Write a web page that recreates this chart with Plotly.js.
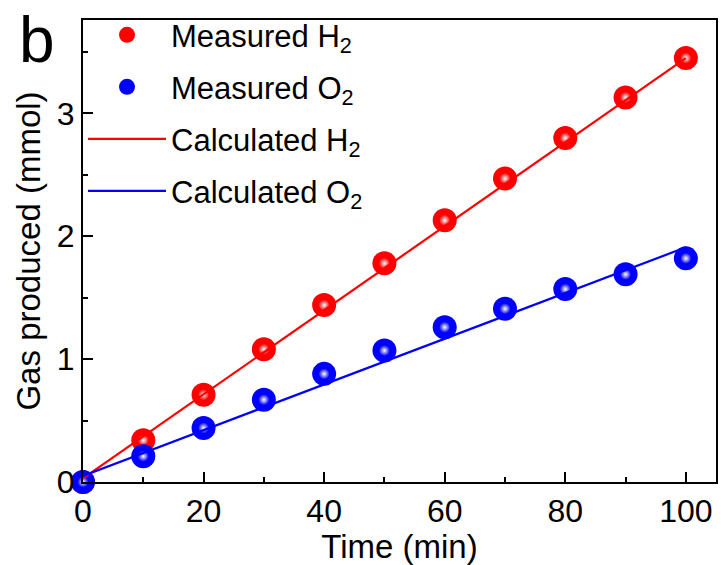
<!DOCTYPE html>
<html><head><meta charset="utf-8">
<script src="https://cdn.plot.ly/plotly-3.0.1.min.js"></script>
<style>html,body{margin:0;padding:0;background:#fff;}</style>
</head><body><div id="chart" style="width:721px;height:565px;"></div>
<script>
const time = [0,10,20,30,40,50,60,70,80,90,100];
const measuredH2 = [0,0.34,0.71,1.08,1.44,1.78,2.13,2.47,2.80,3.13,3.45];
const measuredO2 = [0,0.21,0.44,0.67,0.88,1.07,1.26,1.41,1.57,1.69,1.82];
const calcTime = [0,100];
const calculatedH2 = [0.03,3.45];
const calculatedO2 = [0.05,1.91];
const names = ['Measured H<sub>2</sub>','Measured O<sub>2</sub>','Calculated H<sub>2</sub>','Calculated O<sub>2</sub>'];

const FONT = "Arial, 'Liberation Sans', sans-serif";
const RED = '#ff0000', BLUE = '#0000ff';

function sphere(y, color, name, grp){
  return [{
    x: time, y: y, type:'scatter', mode:'markers', name: name, legendgroup: grp,
    marker:{size:24, color: color, symbol:'circle', line:{width:0}},
    cliponaxis:false, hoverinfo:'x+y'
  },{
    x: time, y: y, type:'scatter', mode:'markers', showlegend:false, legendgroup: grp,
    marker:{size:11, color: color, line:{width:0}, gradient:{type:'radial', color:'#ffffff'}},
    cliponaxis:false, hoverinfo:'skip'
  }];
}
const traces = [
  ...sphere(measuredH2, RED, names[0], 'g1'),
  ...sphere(measuredO2, BLUE, names[1], 'g2'),
  {x: calcTime, y: calculatedH2, type:'scatter', mode:'lines', name:names[2], legendgroup:'g3',
   line:{color:RED, width:2.2}, cliponaxis:false},
  {x: calcTime, y: calculatedO2, type:'scatter', mode:'lines', name:names[3], legendgroup:'g4',
   line:{color:BLUE, width:2.2}, cliponaxis:false}
];

const layout = {
  width:721, height:565,
  margin:{l:83, r:5, t:20, b:83},
  paper_bgcolor:'#fff', plot_bgcolor:'#fff',
  font:{family:FONT, size:32, color:'#000'},
  showlegend:true,
  legend:{x:0.0, y:1.0255, xanchor:'left', yanchor:'top', bgcolor:'rgba(0,0,0,0)',
    font:{family:FONT, size:31, color:'#000'}, traceorder:'grouped', tracegroupgap:8.7,
    itemwidth:78, itemsizing:'trace'},
  xaxis:{range:[0,105], showgrid:false, zeroline:false, showline:true, linecolor:'#000', linewidth:2,
    mirror:true, ticks:'inside', ticklen:10, tickwidth:2, tickcolor:'#000', dtick:20, tick0:0,
    minor:{ticks:'inside', ticklen:5, tickwidth:2, tickcolor:'#000', dtick:10},
    tickfont:{family:FONT, size:32},
    title:{text:'Time (min)', font:{family:FONT, size:33}, standoff:2}},
  yaxis:{range:[0,3.76], showgrid:false, zeroline:false, showline:true, linecolor:'#000', linewidth:2,
    mirror:true, ticks:'inside', ticklen:10, tickwidth:2, tickcolor:'#000', dtick:1, tick0:0,
    minor:{ticks:'inside', ticklen:5, tickwidth:2, tickcolor:'#000', dtick:0.5},
    tickfont:{family:FONT, size:32},
    title:{text:'Gas produced (mmol)', font:{family:FONT, size:33}, standoff:6}},
  annotations:[{text:'b', xref:'paper', yref:'paper', x:-0.104, y:1.04, xanchor:'left', yanchor:'top',
    showarrow:false, font:{family:FONT, size:64, color:'#000'}}]
};
Plotly.newPlot('chart', traces, layout, {displayModeBar:false, staticPlot:true});
</script></body></html>
